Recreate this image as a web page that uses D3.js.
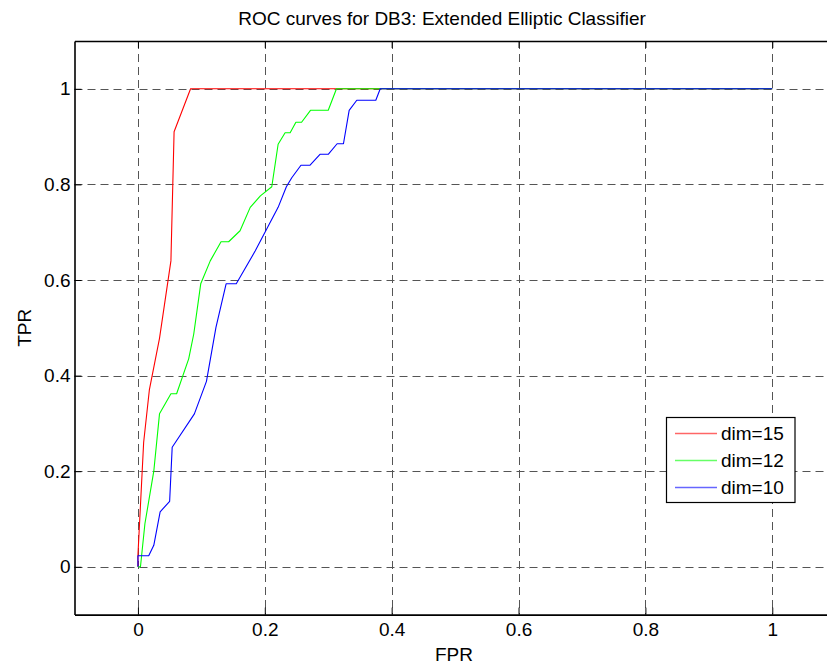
<!DOCTYPE html>
<html>
<head>
<meta charset="utf-8">
<script src="https://cdn.jsdelivr.net/npm/d3@7"></script>
<style>
  html, body { margin: 0; padding: 0; background: #fff; }
  svg { display: block; font-family: "Liberation Sans", Arial, Helvetica, sans-serif; }
</style>
</head>
<body>
<svg id="chart" width="827" height="667"></svg>
<script>
// ---- data ----
const titleText = "ROC curves for DB3: Extended Elliptic Classifier";
const xLabel = "FPR";
const yLabel = "TPR";
const xTicks = [0, 0.2, 0.4, 0.6, 0.8, 1];
const yTicks = [0, 0.2, 0.4, 0.6, 0.8, 1];
const seriesNames = ["dim=15", "dim=12", "dim=10"];
const seriesColors = ["#ff0000", "#00ff00", "#0000ff"];

const fpr15 = [0, 0, 0.009, 0.018, 0.034, 0.052, 0.057, 0.083, 1];
const tpr15 = [0, 0.024, 0.26, 0.37, 0.478, 0.64, 0.91, 1, 1];

const fpr12 = [0, 0.004, 0.011, 0.025, 0.034, 0.052, 0.061, 0.080, 0.088, 0.099, 0.114, 0.131, 0.143, 0.161, 0.177, 0.193, 0.211, 0.221, 0.232, 0.240, 0.249, 0.258, 0.272, 0.300, 0.313, 1];
const tpr12 = [0, 0, 0.09, 0.20, 0.32, 0.362, 0.362, 0.435, 0.487, 0.592, 0.640, 0.680, 0.680, 0.703, 0.752, 0.776, 0.795, 0.884, 0.908, 0.908, 0.930, 0.930, 0.955, 0.955, 1, 1];

const fpr10 = [0, 0, 0.017, 0.025, 0.035, 0.050, 0.054, 0.089, 0.108, 0.123, 0.139, 0.155, 0.185, 0.221, 0.234, 0.2425, 0.257, 0.271, 0.287, 0.300, 0.314, 0.324, 0.333, 0.345, 0.375, 0.382, 1];
const tpr10 = [0, 0.023, 0.023, 0.045, 0.115, 0.137, 0.25, 0.320, 0.388, 0.501, 0.592, 0.592, 0.661, 0.752, 0.795, 0.814, 0.840, 0.840, 0.863, 0.863, 0.885, 0.885, 0.955, 0.976, 0.976, 1, 1];

const seriesX = [fpr15, fpr12, fpr10];
const seriesY = [tpr15, tpr12, tpr10];

// ---- layout ----
const svg = d3.select("#chart");
const plotL = 74.5, plotR = 835.7, plotT = 41, plotB = 614.6;
const fontSize = 19;

const x = d3.scaleLinear().domain([-0.1, 1.1]).range([plotL, plotR]);
const y = d3.scaleLinear().domain([-0.1, 1.1]).range([plotB, plotT]);

// grid
const grid = svg.append("g").attr("stroke", "#555").attr("stroke-width", 1).attr("stroke-dasharray", "8,5");
grid.selectAll("line.v").data(xTicks).join("line").attr("class", "v")
  .attr("x1", d => Math.round(x(d)) + 0.5).attr("x2", d => Math.round(x(d)) + 0.5)
  .attr("y1", plotT).attr("y2", plotB);
grid.selectAll("line.h").data(yTicks).join("line").attr("class", "h")
  .attr("y1", d => Math.round(y(d)) + 0.5).attr("y2", d => Math.round(y(d)) + 0.5)
  .attr("x1", plotL).attr("x2", plotR);

// curves
const line = d3.line().x(d => x(d[0])).y(d => y(d[1]));
seriesX.forEach((xs, i) => {
  const pts = xs.map((v, j) => [v, seriesY[i][j]]);
  svg.append("path").datum(pts)
    .attr("d", line)
    .attr("fill", "none")
    .attr("stroke", seriesColors[i])
    .attr("stroke-width", 1.1)
    .attr("stroke-linejoin", "round");
});

// axes
function styleAxis(g) {
  g.selectAll("path.domain").attr("stroke", "#000").attr("stroke-width", 1.6);
  g.selectAll(".tick line").attr("stroke", "#000").attr("stroke-width", 1);
  g.selectAll(".tick text").attr("fill", "#000").attr("font-size", fontSize)
    .attr("font-family", "Liberation Sans, Arial, sans-serif");
}
svg.append("g").attr("transform", `translate(0,${plotB})`)
  .call(d3.axisBottom(x).tickValues(xTicks).tickFormat(d3.format("~g")).tickSizeInner(-7).tickSizeOuter(0).tickPadding(8))
  .call(styleAxis);
svg.append("g").attr("transform", `translate(0,${plotT})`)
  .call(d3.axisTop(x).tickValues(xTicks).tickFormat("").tickSizeInner(-7).tickSizeOuter(0))
  .call(styleAxis);
svg.append("g").attr("transform", `translate(${plotL},0)`)
  .call(d3.axisLeft(y).tickValues(yTicks).tickFormat(d3.format("~g")).tickSizeInner(-7).tickSizeOuter(0).tickPadding(4))
  .call(styleAxis);

// title and labels
svg.append("text").attr("x", 442).attr("y", 25).attr("text-anchor", "middle")
  .attr("font-size", fontSize).text(titleText);
svg.append("text").attr("x", 454).attr("y", 661).attr("text-anchor", "middle")
  .attr("font-size", fontSize).text(xLabel);
svg.append("text").attr("transform", `translate(31,${(plotT + plotB) / 2}) rotate(-90)`)
  .attr("text-anchor", "middle").attr("font-size", fontSize).text(yLabel);

// legend
const lg = svg.append("g");
lg.append("rect").attr("x", 666.5).attr("y", 417.5).attr("width", 128.5).attr("height", 85)
  .attr("fill", "#fff").attr("stroke", "#000").attr("stroke-width", 1.2);
const rowY = [433.5, 460.5, 487.5];
seriesNames.forEach((name, i) => {
  lg.append("line").attr("x1", 675).attr("x2", 717).attr("y1", rowY[i]).attr("y2", rowY[i])
    .attr("stroke", seriesColors[i]).attr("stroke-width", 1.6).attr("stroke-opacity", 0.6);
  lg.append("text").attr("x", 721).attr("y", rowY[i]).attr("dy", "0.35em")
    .attr("font-size", fontSize).text(name);
});
</script>
</body>
</html>
